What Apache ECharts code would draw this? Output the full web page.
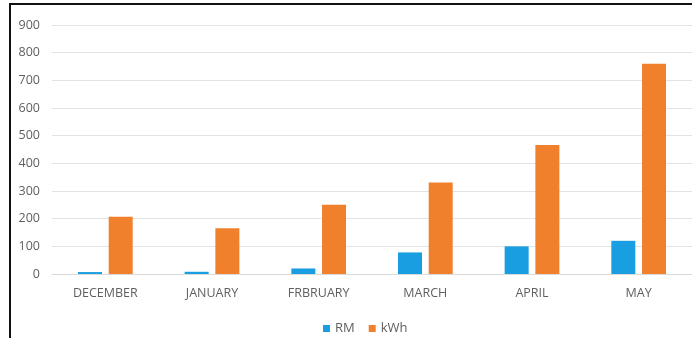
<!DOCTYPE html>
<html>
<head>
<meta charset="utf-8">
<script src="https://cdn.jsdelivr.net/npm/echarts@6/dist/echarts.min.js"></script>
<style>
  html, body { margin: 0; padding: 0; background: #fff; }
  #frame {
    position: absolute; left: 9px; top: 3px; width: 690px; height: 340px;
    border-left: 2px solid #111; border-top: 2px solid #111;
  }
  #chart { position: absolute; left: 0; top: 0; width: 692px; height: 338px; }
</style>
</head>
<body>
<div id="frame"></div>
<div id="chart"></div>
<script>
// Monthly cost (RM) and energy use (kWh)
const months = ['DECEMBER', 'JANUARY', 'FRBRUARY', 'MARCH', 'APRIL', 'MAY'];
const rmValues = [7, 8, 20, 78, 100, 120];
const kwhValues = [207, 165, 250, 331, 466, 760];
const yTicks = { min: 0, max: 900, step: 100 };

const labelFont = '"Open Sans", "Liberation Sans", sans-serif';

const chart = echarts.init(document.getElementById('chart'), null, { renderer: 'canvas' });
chart.setOption({
  backgroundColor: 'transparent',
  animation: false,
  grid: { left: 52, width: 644, top: 25, height: 249, containLabel: false },
  legend: {
    top: 317,
    left: 318,
    icon: 'rect',
    itemWidth: 7,
    itemHeight: 7,
    itemGap: 14,
    textStyle: { color: '#5f5f5f', fontSize: 13, fontFamily: labelFont },
    data: ['RM', 'kWh']
  },
  xAxis: {
    type: 'category',
    data: months,
    axisLine: { show: true, lineStyle: { color: '#d9d9d9', width: 1 } },
    axisTick: { show: false },
    axisLabel: { color: '#5f5f5f', fontSize: 12.5, fontFamily: labelFont, margin: 13 }
  },
  yAxis: {
    type: 'value',
    min: yTicks.min,
    max: yTicks.max,
    interval: yTicks.step,
    axisLine: { show: false },
    axisTick: { show: false },
    splitLine: { lineStyle: { color: '#e3e3e3', width: 1 } },
    axisLabel: { color: '#5f5f5f', fontSize: 12.5, fontFamily: labelFont, margin: 12 }
  },
  series: [
    {
      name: 'RM',
      type: 'bar',
      data: rmValues,
      barWidth: 24,
      barGap: '28%',
      itemStyle: { color: '#1a9ee2' }
    },
    {
      name: 'kWh',
      type: 'bar',
      data: kwhValues,
      barWidth: 24,
      itemStyle: { color: '#f0802b' }
    }
  ]
});
</script>
</body>
</html>
